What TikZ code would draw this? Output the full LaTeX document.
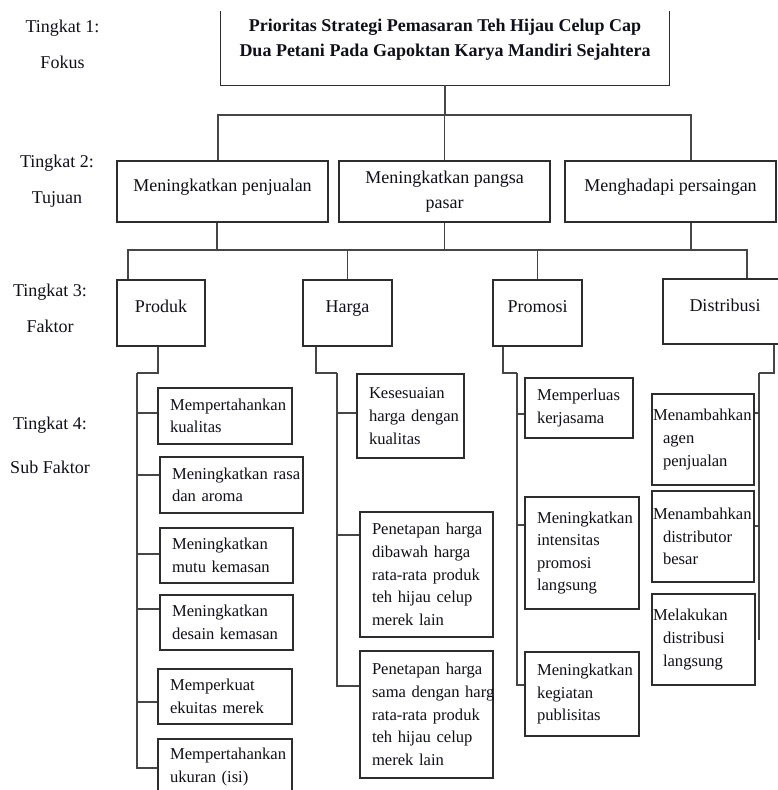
\documentclass[tikz,border=0pt]{standalone}
\usepackage{fontspec}
\setmainfont{Liberation Serif}
\definecolor{ahpink}{RGB}{15,15,25}
\definecolor{ahpdark}{RGB}{45,45,45}
\definecolor{ahpgray}{RGB}{70,70,70}
\hyphenpenalty=10000
\exhyphenpenalty=10000

\begin{document}
\begin{tikzpicture}[x=1pt,y=-1pt,
  ahpgoal/.style={minimum width=448pt,minimum height=91pt,align=center,inner sep=0pt,
    font=\fontsize{18}{25}\selectfont\bfseries,text=ahpink},
  ahpbox/.style={draw=ahpdark,line width=1.3pt,inner sep=0pt,text=ahpink,
    font=\fontsize{18}{25}\selectfont},
  ahpone/.style={text height=12pt,text depth=13pt},
  ahpsub/.style={draw=ahpdark,line width=1.3pt,align=left,inner xsep=12pt,inner ysep=0pt,
    text=ahpink,font=\fontsize{16.6}{22.6}\selectfont},
  ahplevel/.style={align=center,text=ahpink,font=\fontsize{18}{36}\selectfont},
  ahpline/.style={draw=ahpgray,line width=1.2pt}
]
  \useasboundingbox (0,0) rectangle (778,790);

  % Level labels
  \node[ahplevel] (lv1) at (62.5,44) {Tingkat 1:\\Fokus};
  \node[ahplevel] (lv2) at (57,181) {Tingkat 2:\\Tujuan};
  \node[ahplevel] (lv3) at (50,308.5) {Tingkat 3:\\Faktor};
  \node[ahplevel] (lv4) at (50,445) {Tingkat 4:\\[8pt]Sub Faktor};

  % Focus (top edge cut off)
  \node[ahpgoal] (fokus) at (445,39.5) {
    Prioritas Strategi Pemasaran Teh Hijau Celup Cap\\
    Dua Petani Pada Gapoktan Karya Mandiri Sejahtera};
  \draw[draw=ahpdark,line width=1.3pt] ([yshift=-17pt]fokus.north west) -- (fokus.south west)
    -- (fokus.south east) -- ([yshift=-17pt]fokus.north east);

  % Goals
  \node[ahpbox,ahpone,minimum width=211pt,minimum height=61pt] (tuj1) at (222.5,191.5)
    {Meningkatkan penjualan};
  \node[ahpbox,align=center,minimum width=211pt,minimum height=61pt] (tuj2) at (444.5,191.5)
    {Meningkatkan pangsa\\pasar};
  \node[ahpbox,ahpone,minimum width=211pt,minimum height=61pt] (tuj3) at (670.5,191.5)
    {Menghadapi persaingan};

  % Factors
  \node[ahpbox,ahpone,minimum width=88pt,minimum height=66pt] (produk) at (161,313) {Produk};
  \node[ahpbox,ahpone,minimum width=89pt,minimum height=66pt] (harga) at (347.5,313) {Harga};
  \node[ahpbox,ahpone,minimum width=89pt,minimum height=66pt] (promosi) at (537.5,313) {Promosi};
  \node[ahpbox,ahpone,minimum width=124pt,minimum height=65pt] (distri) at (725,311.5) {Distribusi};

  % Sub factors: Produk
  \node[ahpsub,text width=110pt,minimum height=56pt] (ppA) at (225,416)
    {Mempertahankan\\kualitas};
  \node[ahpsub,text width=119pt,minimum height=56pt] (ppB) at (231.5,485)
    {Meningkatkan~rasa\\dan aroma};
  \node[ahpsub,text width=109pt,minimum height=55pt] (ppC) at (226.5,555.5)
    {Meningkatkan\\mutu kemasan};
  \node[ahpsub,text width=109pt,minimum height=55pt] (ppD) at (226.5,622.5)
    {Meningkatkan\\desain kemasan};
  \node[ahpsub,text width=110pt,minimum height=55pt] (ppE) at (225,696.5)
    {Memperkuat\\ekuitas merek};
  \node[ahpsub,text width=110pt,minimum height=56pt] (ppF) at (225,767)
    {Mempertahankan\\ukuran (isi)};

  % Sub factors: Harga
  \node[ahpsub,text width=83pt,minimum height=84pt] (hgA) at (410.5,416)
    {Kesesuaian\\harga~dengan\\kualitas};
  \node[ahpsub,text width=109pt,minimum height=125pt] (hgB) at (426.5,574.5)
    {Penetapan~harga\\dibawah harga\\rata-rata produk\\teh hijau celup\\merek lain};
  \node[ahpsub,text width=109pt,minimum height=127pt] (hgC) at (426.5,714.5)
    {Penetapan~harga\\sama~dengan~harg\\rata-rata produk\\teh hijau celup\\merek lain};

  % Sub factors: Promosi
  \node[ahpsub,text width=84pt,minimum height=60pt] (prA) at (579,408)
    {Memperluas\\kerjasama};
  \node[ahpsub,text width=90pt,minimum height=112pt] (prB) at (582,553)
    {Meningkatkan\\intensitas\\promosi\\langsung};
  \node[ahpsub,text width=90pt,minimum height=84pt] (prC) at (582,694)
    {Meningkatkan\\kegiatan\\publisitas};

  % Sub factors: Distribusi
  \node[ahpsub,inner xsep=11pt,text width=80pt,minimum height=91pt] (dsA) at (703,439.5)
    {\hspace*{-10pt}Menambahkan\\agen\\penjualan};
  \node[ahpsub,inner xsep=11pt,text width=80pt,minimum height=91pt] (dsB) at (703,536.5)
    {\hspace*{-10pt}Menambahkan\\distributor\\besar};
  \node[ahpsub,inner xsep=11pt,text width=81pt,minimum height=91pt] (dsC) at (703.5,639.5)
    {\hspace*{-10pt}Melakukan\\distribusi\\langsung};

  % Hierarchy lines
  \coordinate (bar1) at (445,115);
  \coordinate (bar2) at (445,250);
  \draw[ahpline] (fokus.south) |- (bar1);
  \draw[ahpline] ([xshift=-4.5pt]tuj1.north) |- (bar1) -| ([xshift=20.5pt]tuj3.north);
  \draw[ahpline] (tuj2.north) |- (bar1);

  \draw[ahpline] ([xshift=-5.5pt]tuj1.south) |- (bar2);
  \draw[ahpline] (tuj2.south) |- (bar2);
  \draw[ahpline] ([xshift=20.5pt]tuj3.south) |- (bar2);
  \draw[ahpline] ([xshift=-33pt]produk.north) |- (bar2) -| ([xshift=22pt]distri.north);
  \draw[ahpline] (harga.north) |- (bar2);
  \draw[ahpline] (promosi.north) |- (bar2);

  % Sub factor trunks
  \coordinate (pTop) at (137,373);
  \coordinate (hTop) at (337,373);
  \coordinate (prTop) at (517,373);
  \coordinate (dTop) at (759,373);
  \draw[ahpline] ([xshift=-3pt]produk.south) |- (pTop);
  \draw[ahpline] ([xshift=-31.5pt]harga.south) |- (hTop);
  \draw[ahpline] ([xshift=-34.5pt]promosi.south) |- (prTop);
  \draw[ahpline] ([xshift=49pt]distri.south) |- (dTop);

  \foreach \n/\s in {ppA/3,ppB/10,ppC/1.5,ppD/13.5,ppE/-5.5,ppF/-1}
    \draw[ahpline] ([yshift=\s pt]\n.west) -| (pTop);
  \foreach \n/\s in {hgA/3,hgB/39.5,hgC/28.5}
    \draw[ahpline] ([yshift=\s pt]\n.west) -| (hTop);
  \foreach \n/\s in {prA/-6,prB/28,prC/9}
    \draw[ahpline] ([yshift=\s pt]\n.west) -| (prTop);
  \foreach \n/\s in {dsA/26.5,dsB/10.5}
    \draw[ahpline] ([yshift=\s pt]\n.east) -| (dTop);
  \draw[ahpline] (dTop) -- (dTop |- dsC.center);
\end{tikzpicture}
\end{document}
